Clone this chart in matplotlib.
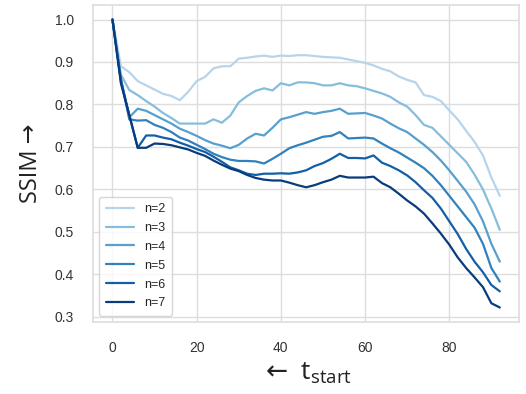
import matplotlib
matplotlib.use("Agg")
import matplotlib.pyplot as plt
import numpy as np
import seaborn as sns

# starting timestep (every 2 steps)
t_start = list(range(0, 93, 2))
labels = ["n=2", "n=3", "n=4", "n=5", "n=6", "n=7"]

ssim_n2 = [1.0, 0.89, 0.876, 0.855, 0.845, 0.835, 0.825, 0.82, 0.81, 0.83, 0.855, 0.865,
           0.885, 0.89, 0.89, 0.908, 0.91, 0.913, 0.915, 0.912, 0.915, 0.914, 0.916, 0.916,
           0.914, 0.912, 0.911, 0.91, 0.906, 0.902, 0.898, 0.892, 0.884, 0.878, 0.866, 0.858,
           0.852, 0.822, 0.818, 0.808, 0.786, 0.765, 0.738, 0.712, 0.68, 0.628, 0.585]
ssim_n3 = [1.0, 0.87, 0.834, 0.822, 0.808, 0.795, 0.78, 0.768, 0.755, 0.755, 0.755, 0.755,
           0.765, 0.757, 0.774, 0.805, 0.82, 0.832, 0.838, 0.833, 0.85, 0.845, 0.852, 0.852,
           0.85, 0.845, 0.845, 0.85, 0.845, 0.843, 0.838, 0.832, 0.826, 0.818, 0.805, 0.795,
           0.775, 0.752, 0.745, 0.725, 0.705, 0.685, 0.665, 0.635, 0.6, 0.555, 0.505]
ssim_n4 = [1.0, 0.86, 0.77, 0.79, 0.785, 0.775, 0.765, 0.755, 0.743, 0.735, 0.726, 0.716,
           0.708, 0.703, 0.697, 0.705, 0.72, 0.731, 0.727, 0.745, 0.765, 0.77, 0.776, 0.782,
           0.778, 0.782, 0.785, 0.79, 0.778, 0.779, 0.78, 0.774, 0.767, 0.755, 0.744, 0.735,
           0.72, 0.705, 0.688, 0.668, 0.645, 0.62, 0.595, 0.565, 0.525, 0.472, 0.43]
ssim_n5 = [1.0, 0.86, 0.765, 0.762, 0.763, 0.752, 0.745, 0.735, 0.722, 0.715, 0.705, 0.695,
           0.684, 0.676, 0.67, 0.667, 0.667, 0.666, 0.661, 0.672, 0.684, 0.697, 0.704, 0.71,
           0.717, 0.724, 0.726, 0.735, 0.72, 0.721, 0.722, 0.72, 0.708, 0.697, 0.687, 0.675,
           0.663, 0.65, 0.632, 0.61, 0.585, 0.56, 0.535, 0.51, 0.472, 0.415, 0.383]
ssim_n6 = [1.0, 0.855, 0.775, 0.698, 0.727, 0.727, 0.722, 0.718, 0.71, 0.703, 0.695, 0.688,
           0.677, 0.665, 0.652, 0.645, 0.637, 0.634, 0.637, 0.637, 0.638, 0.637, 0.64, 0.645,
           0.655, 0.662, 0.672, 0.684, 0.674, 0.674, 0.673, 0.68, 0.663, 0.655, 0.645, 0.633,
           0.617, 0.598, 0.58, 0.555, 0.525, 0.495, 0.46, 0.43, 0.405, 0.375, 0.36]
ssim_n7 = [1.0, 0.85, 0.775, 0.698, 0.698, 0.708, 0.707, 0.704, 0.699, 0.694, 0.686, 0.679,
           0.668, 0.658, 0.649, 0.643, 0.634, 0.627, 0.623, 0.621, 0.621, 0.616, 0.61, 0.605,
           0.61, 0.617, 0.623, 0.632, 0.628, 0.628, 0.628, 0.63, 0.615, 0.605, 0.59, 0.574,
           0.56, 0.543, 0.52, 0.496, 0.47, 0.44, 0.415, 0.393, 0.37, 0.332, 0.322]

series = [ssim_n2, ssim_n3, ssim_n4, ssim_n5, ssim_n6, ssim_n7]

sns.set_theme(style="whitegrid")
plt.rcParams['font.family'] = ['Liberation Sans', 'DejaVu Sans']

fig = plt.figure(figsize=(5.26, 3.94), dpi=100)
ax = fig.add_axes([0.177, 0.183, 0.81, 0.804])

colors = plt.cm.Blues(np.linspace(0.3, 0.95, len(series)))
for vals, lab, c in zip(series, labels, colors):
    ax.plot(t_start, vals, color=c, lw=1.6, label=lab)

ax.set_yticks([0.3, 0.4, 0.5, 0.6, 0.7, 0.8, 0.9, 1.0])
ax.set_xticks([0, 20, 40, 60, 80])
ax.tick_params(labelsize=10, colors='#333333', pad=8)
for s in ax.spines.values():
    s.set_color('#dddddd')
    s.set_linewidth(1.2)
ax.grid(color='#dddddd', lw=1.0)

ax.set_ylabel("SSIM →", fontsize=17, family=['Open Sans', 'DejaVu Sans'],
              color='#222222', labelpad=8)
ax.set_xlabel("$\\leftarrow\\mathregular{\\ t_{start}}$", fontsize=19,
              family=['Open Sans', 'DejaVu Sans'], color='#222222', labelpad=4)

ax.legend(loc='lower left', fontsize=9, frameon=True, handlelength=2.3,
          borderpad=0.5, labelspacing=0.55)

fig.savefig("out.png", dpi=100)
